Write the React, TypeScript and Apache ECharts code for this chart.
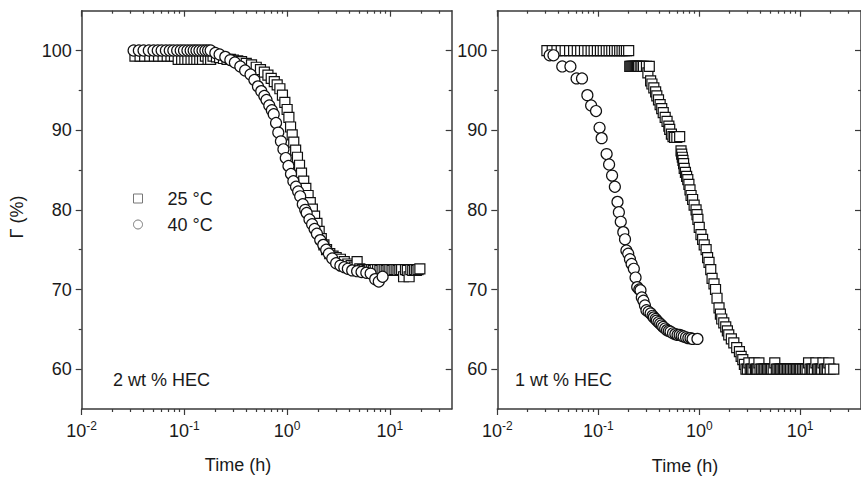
import React, { useEffect, useRef } from "react";
import * as echarts from "echarts";

// ---- axis tick values ----
const X_MAJOR = [0.01, 0.1, 1, 10];
const X_MINOR = [
  0.02, 0.03, 0.04, 0.05, 0.06, 0.07, 0.08, 0.09,
  0.2, 0.3, 0.4, 0.5, 0.6, 0.7, 0.8, 0.9,
  2, 3, 4, 5, 6, 7, 8, 9,
  20, 30,
];
const Y_MAJOR = [60, 70, 80, 90, 100];
const Y_MINOR = [65, 75, 85, 95];

const SERIES_NAMES = ["25 °C", "40 °C"];
const PANEL_LABELS = ["2 wt % HEC", "1 wt % HEC"];

// ---- 2 wt % HEC, 25 °C (squares) [time h, Γ %] ----
const hec2_25C: [number, number][] = [
  [0.033, 99.3], [0.037, 99.3], [0.041, 99.3], [0.046, 99.3], [0.051, 99.3], [0.056, 99.3],
  [0.062, 99.3], [0.068, 99.3], [0.074, 99.3], [0.08, 99.3], [0.087, 98.9], [0.094, 98.9],
  [0.101, 98.9], [0.108, 98.9], [0.116, 98.9], [0.124, 98.9], [0.132, 98.9], [0.141, 98.9],
  [0.15, 98.9], [0.16, 99.3], [0.17, 98.9], [0.18, 98.9], [0.19, 99.3], [0.205, 99.2],
  [0.22, 99.1], [0.24, 99.0], [0.26, 98.9], [0.28, 98.9], [0.3, 98.8], [0.33, 98.7],
  [0.36, 98.6], [0.4, 98.4], [0.45, 98.2], [0.5, 97.9], [0.55, 97.6], [0.6, 97.3],
  [0.65, 96.9], [0.7, 96.5], [0.75, 96.1], [0.8, 95.7], [0.85, 95.2], [0.9, 94.4],
  [0.95, 93.5], [1.0, 92.6], [1.04, 91.6], [1.08, 90.4], [1.12, 89.4], [1.16, 88.5],
  [1.21, 87.5], [1.26, 86.6], [1.32, 85.6], [1.38, 84.6], [1.45, 83.6], [1.52, 82.7],
  [1.6, 81.8], [1.68, 80.9], [1.76, 80.1], [1.85, 79.2], [1.95, 78.3], [2.05, 77.3],
  [2.15, 76.4], [2.28, 75.6], [2.42, 75.0], [2.6, 74.5], [2.8, 74.2], [3.0, 74.0],
  [3.3, 73.8], [3.6, 73.5], [3.9, 73.2], [4.2, 73.0], [4.5, 72.8], [4.8, 73.5],
  [5.1, 72.6], [5.4, 72.5], [5.7, 72.5], [6.0, 72.4], [6.3, 72.5], [6.6, 72.5],
  [6.9, 72.4], [7.2, 72.5], [7.6, 72.5], [8.0, 72.4], [8.4, 72.5], [8.8, 72.5],
  [9.2, 72.4], [9.6, 72.5], [10.0, 72.5], [10.5, 72.4], [11.0, 72.5], [11.5, 72.5],
  [12.0, 72.4], [12.5, 72.5], [13.0, 72.5], [13.6, 71.6], [14.2, 72.5], [14.8, 72.4],
  [15.4, 71.6], [16.0, 72.5], [16.7, 72.4], [17.4, 72.5], [18.1, 72.4], [18.8, 72.5],
  [19.6, 72.6],
];

// ---- 2 wt % HEC, 40 °C (circles) ----
const hec2_40C: [number, number][] = [
  [0.032, 100], [0.036, 100], [0.04, 100], [0.045, 100], [0.05, 100], [0.055, 100],
  [0.06, 100], [0.066, 100], [0.072, 100], [0.078, 100], [0.085, 100], [0.092, 100],
  [0.099, 100], [0.107, 100], [0.115, 100], [0.123, 100], [0.131, 100], [0.14, 100],
  [0.15, 100], [0.16, 100], [0.17, 100], [0.18, 100], [0.2, 99.7], [0.22, 99.5],
  [0.25, 99.2], [0.28, 98.8], [0.31, 98.5], [0.35, 98.0], [0.39, 97.5], [0.44, 97.0],
  [0.48, 96.3], [0.52, 95.5], [0.56, 94.9], [0.6, 94.3], [0.63, 93.8], [0.67, 93.1],
  [0.71, 92.5], [0.74, 92.0], [0.78, 90.9], [0.82, 89.7], [0.87, 88.6], [0.92, 87.6],
  [0.97, 86.5], [1.03, 85.5], [1.09, 84.5], [1.15, 83.6], [1.22, 82.9], [1.28, 82.3],
  [1.34, 81.7], [1.42, 80.7], [1.5, 80.0], [1.55, 79.6], [1.65, 78.8], [1.75, 78.2],
  [1.85, 77.6], [1.95, 77.0], [2.1, 76.2], [2.25, 75.6], [2.4, 75.0], [2.55, 74.5],
  [2.75, 73.9], [3.0, 73.3], [3.3, 73.0], [3.6, 72.8], [3.9, 72.6], [4.3, 72.4],
  [4.8, 72.3], [5.3, 72.2], [5.9, 72.1], [6.5, 72.0], [7.2, 71.3], [7.8, 71.0],
  [8.5, 71.6],
];

// ---- 1 wt % HEC, 25 °C (squares) ----
const hec1_25C: [number, number][] = [
  [0.031, 100], [0.035, 100], [0.039, 100], [0.043, 100], [0.047, 100], [0.052, 100],
  [0.057, 100], [0.062, 100], [0.067, 100], [0.073, 100], [0.079, 100], [0.085, 100],
  [0.091, 100], [0.098, 100], [0.105, 100], [0.112, 100], [0.12, 100], [0.128, 100],
  [0.136, 100], [0.145, 100], [0.154, 100], [0.163, 100], [0.172, 100], [0.181, 100],
  [0.19, 100], [0.2, 100], [0.205, 98], [0.21, 98], [0.215, 98], [0.22, 98],
  [0.225, 98], [0.23, 98], [0.235, 98], [0.24, 98], [0.245, 98], [0.25, 98],
  [0.26, 98], [0.27, 98], [0.28, 98], [0.3, 98], [0.31, 97.2], [0.32, 98],
  [0.33, 96.2], [0.34, 95.8], [0.355, 95.3], [0.37, 94.8], [0.38, 94.3], [0.395, 93.8],
  [0.41, 93.2], [0.425, 92.7], [0.44, 92.2], [0.46, 91.6], [0.48, 91.1], [0.5, 90.5],
  [0.51, 90.1], [0.53, 89.5], [0.55, 89.2], [0.57, 89.1], [0.6, 89.1], [0.64, 89.2],
  [0.66, 87.4], [0.67, 87.0], [0.68, 86.6], [0.69, 86.2], [0.7, 85.8], [0.71, 85.2],
  [0.73, 84.7], [0.75, 84.2], [0.77, 83.8], [0.79, 83.2], [0.81, 82.5], [0.83, 81.8],
  [0.86, 81.3], [0.89, 80.6], [0.93, 80.0], [0.95, 79.4], [0.97, 78.8], [1.0, 77.8],
  [1.04, 76.9], [1.08, 76.3], [1.12, 75.6], [1.17, 75.0], [1.21, 74.0], [1.25, 73.4],
  [1.3, 72.5], [1.34, 71.4], [1.4, 70.7], [1.45, 70.0], [1.5, 68.9], [1.57, 67.7],
  [1.62, 66.9], [1.67, 66.3], [1.75, 65.8], [1.83, 65.3], [1.9, 64.8], [1.96, 64.3],
  [2.08, 63.8], [2.2, 63.3], [2.35, 62.7], [2.5, 62.2], [2.6, 61.6], [2.7, 61.2],
  [2.8, 60.6], [2.9, 60.0], [3.0, 60], [3.1, 60.8], [3.2, 60], [3.3, 60],
  [3.4, 60], [3.5, 60.8], [3.6, 60], [3.7, 60], [3.8, 60], [3.9, 60.8],
  [4.0, 60], [4.15, 60], [4.3, 60], [4.45, 60], [4.6, 60], [4.75, 60],
  [4.9, 60], [5.05, 60], [5.2, 60], [5.4, 60], [5.6, 60.8], [5.8, 60],
  [6.0, 60], [6.2, 60], [6.4, 60], [6.6, 60], [6.8, 60], [7.0, 60],
  [7.25, 60], [7.5, 60], [7.75, 60], [8.0, 60], [8.3, 60], [8.6, 60],
  [8.9, 60], [9.2, 60], [9.5, 60], [9.8, 60], [10.1, 60], [10.5, 60],
  [10.9, 60], [11.3, 60], [11.7, 60], [12.1, 60.8], [12.5, 60], [12.9, 60],
  [13.3, 60], [13.8, 60], [14.3, 60.8], [14.8, 60], [15.3, 60], [15.8, 60],
  [16.3, 60], [16.8, 60.8], [17.4, 60], [18.0, 60], [18.6, 60], [19.2, 60.8],
  [19.8, 60], [21.5, 60],
];

// ---- 1 wt % HEC, 40 °C (circles) ----
const hec1_40C: [number, number][] = [
  [0.033, 99.4], [0.036, 99.4], [0.044, 98.0], [0.053, 98.0], [0.061, 96.5], [0.069, 96.5],
  [0.078, 94.4], [0.085, 93.1], [0.095, 92.4], [0.103, 90.3], [0.108, 89.0], [0.121, 87.0],
  [0.128, 85.7], [0.137, 84.3], [0.146, 82.9], [0.155, 81.0], [0.16, 79.7], [0.167, 78.5],
  [0.177, 77.2], [0.184, 76.3], [0.19, 74.9], [0.198, 74.5], [0.206, 73.8], [0.214, 73.2],
  [0.225, 72.6], [0.234, 71.5], [0.243, 70.3], [0.255, 70.0], [0.262, 69.9], [0.27, 69.0],
  [0.28, 68.6], [0.29, 68.0], [0.3, 67.4], [0.315, 67.2], [0.33, 67.0], [0.345, 66.7],
  [0.355, 66.5], [0.37, 66.3], [0.38, 66.1], [0.395, 65.9], [0.41, 65.7], [0.425, 65.5],
  [0.44, 65.3], [0.46, 65.1], [0.48, 64.9], [0.5, 64.8], [0.52, 64.7], [0.55, 64.5],
  [0.58, 64.4], [0.61, 64.3], [0.64, 64.3], [0.67, 64.2], [0.7, 64.1], [0.74, 64.0],
  [0.78, 63.9], [0.82, 63.9], [0.86, 63.8], [0.96, 63.8],
];

const FONT = "'Liberation Sans', Arial, Helvetica, sans-serif";
const INK = "#1a1a1a";
const LINE = "#3a3a3a";

const lineStyle = { color: LINE, width: 1.5 };
const tickStyle = { color: LINE, width: 1.2 };

function buildXAxes(gridIndex: number) {
  const base = {
    gridIndex,
    type: "log",
    logBase: 10,
    min: 0.01,
    max: 40,
    splitLine: { show: false },
    minorTick: { show: false },
    minorSplitLine: { show: false },
  };
  return [
    {
      ...base,
      position: "bottom",
      axisLine: { show: true, onZero: false, lineStyle },
      axisTick: { show: true, inside: false, length: 6, customValues: X_MAJOR, lineStyle: tickStyle },
      axisLabel: {
        show: true,
        customValues: X_MAJOR,
        margin: 11,
        formatter: (v: number) => `{b|10}{s|${Math.round(Math.log10(v))}}`,
        rich: {
          b: { fontSize: 18, fontFamily: FONT, color: INK, lineHeight: 20 },
          s: { fontSize: 12, fontFamily: FONT, color: INK, padding: [0, 0, 10, 0] },
        },
      },
    },
    {
      ...base,
      position: "bottom",
      axisLine: { show: false, onZero: false },
      axisTick: { show: true, inside: false, length: 3, customValues: X_MINOR, lineStyle: tickStyle },
      axisLabel: { show: false },
    },
    {
      ...base,
      position: "top",
      axisLine: { show: true, onZero: false, lineStyle },
      axisTick: { show: true, inside: true, length: 6, customValues: X_MAJOR, lineStyle: tickStyle },
      axisLabel: { show: false },
    },
    {
      ...base,
      position: "top",
      axisLine: { show: false, onZero: false },
      axisTick: { show: true, inside: true, length: 3, customValues: X_MINOR, lineStyle: tickStyle },
      axisLabel: { show: false },
    },
  ];
}

function buildYAxes(gridIndex: number) {
  const base = {
    gridIndex,
    type: "value",
    min: 55,
    max: 105,
    splitLine: { show: false },
  };
  return [
    {
      ...base,
      position: "left",
      axisLine: { show: true, onZero: false, lineStyle },
      axisTick: { show: true, inside: false, length: 6, customValues: Y_MAJOR, lineStyle: tickStyle },
      axisLabel: { show: true, customValues: Y_MAJOR, margin: 10, fontSize: 18, fontFamily: FONT, color: INK },
    },
    {
      ...base,
      position: "left",
      axisLine: { show: false, onZero: false },
      axisTick: { show: true, inside: false, length: 3, customValues: Y_MINOR, lineStyle: tickStyle },
      axisLabel: { show: false },
    },
    {
      ...base,
      position: "right",
      axisLine: { show: true, onZero: false, lineStyle },
      axisTick: { show: true, inside: true, length: 6, customValues: Y_MAJOR, lineStyle: tickStyle },
      axisLabel: { show: false },
    },
    {
      ...base,
      position: "right",
      axisLine: { show: false, onZero: false },
      axisTick: { show: true, inside: true, length: 3, customValues: Y_MINOR, lineStyle: tickStyle },
      axisLabel: { show: false },
    },
  ];
}

function scatter(name: string, data: [number, number][], axisIndex: number, symbol: string, size: number) {
  return {
    type: "scatter",
    name,
    data,
    xAxisIndex: axisIndex,
    yAxisIndex: axisIndex,
    symbol,
    symbolSize: size,
    silent: true,
    itemStyle: { color: "#ffffff", borderColor: "#111111", borderWidth: 1.2, opacity: 1 },
  };
}

export default function App() {
  const ref = useRef<HTMLDivElement>(null);

  useEffect(() => {
    document.body.style.margin = "0";
    if (!ref.current) return;
    const chart = echarts.init(ref.current, null, { renderer: "svg" });
    const textStyle = { fontSize: 18, fontFamily: FONT, fill: INK };
    chart.setOption({
      animation: false,
      backgroundColor: "#ffffff",
      grid: [
        { left: 81.7, top: 10.7, width: 370, height: 398.3, containLabel: false },
        { left: 497.3, top: 10.7, width: 370, height: 398.3, containLabel: false },
      ],
      xAxis: [...buildXAxes(0), ...buildXAxes(1)],
      yAxis: [...buildYAxes(0), ...buildYAxes(1)],
      legend: {
        data: SERIES_NAMES,
        orient: "vertical",
        left: 133,
        top: 189.5,
        padding: 0,
        itemWidth: 9,
        itemHeight: 9,
        itemGap: 8,
        selectedMode: false,
        itemStyle: { color: "#ffffff", borderColor: "#777777", borderWidth: 1 },
        formatter: "{t|{name}}",
        textStyle: {
          rich: {
            t: { fontSize: 18, fontFamily: FONT, color: INK, lineHeight: 19, padding: [0, 0, 0, 20] },
          },
        },
      },
      series: [
        scatter(SERIES_NAMES[0], hec2_25C, 0, "rect", 10),
        scatter(SERIES_NAMES[1], hec2_40C, 0, "circle", 11),
        scatter(SERIES_NAMES[0], hec1_25C, 4, "rect", 10),
        scatter(SERIES_NAMES[1], hec1_40C, 4, "circle", 11),
      ],
      graphic: [
        {
          type: "text",
          x: 17,
          y: 217,
          rotation: Math.PI / 2,
          style: { ...textStyle, text: "Γ (%)", align: "center", verticalAlign: "middle" },
        },
        {
          type: "text",
          x: 238,
          y: 465,
          style: { ...textStyle, text: "Time (h)", align: "center", verticalAlign: "middle" },
        },
        {
          type: "text",
          x: 685,
          y: 466,
          style: { ...textStyle, text: "Time (h)", align: "center", verticalAlign: "middle" },
        },
        {
          type: "text",
          x: 113,
          y: 380,
          style: { ...textStyle, text: PANEL_LABELS[0], align: "left", verticalAlign: "middle" },
        },
        {
          type: "text",
          x: 515,
          y: 380,
          style: { ...textStyle, text: PANEL_LABELS[1], align: "left", verticalAlign: "middle" },
        },
      ],
    });
    return () => chart.dispose();
  }, []);

  return <div ref={ref} style={{ width: 861, height: 480 }} />;
}
